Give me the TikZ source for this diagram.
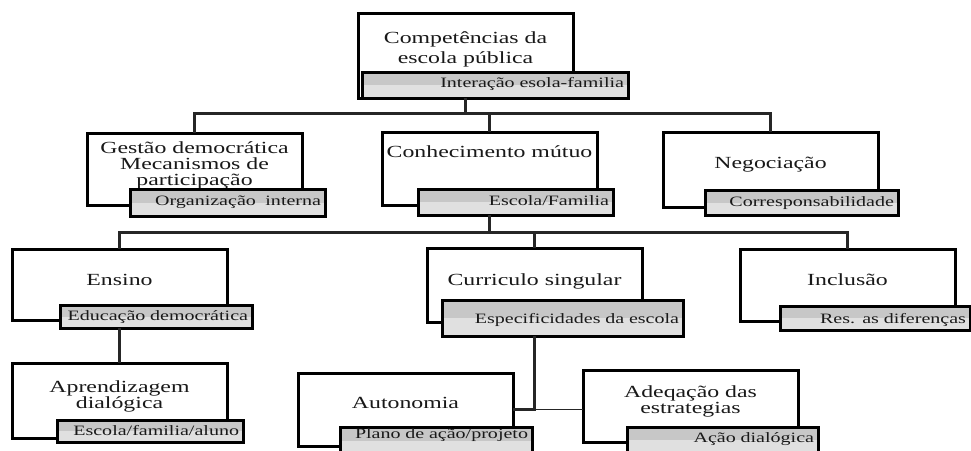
\documentclass[tikz,border=0pt]{standalone}
\usepackage{fontspec}
\newfontfamily\serifwide[FakeStretch=1.4]{Liberation Serif}
\newcommand{\boxtxt}{\serifwide\fontsize{17}{16}\selectfont}
\newcommand{\tagtxt}{\serifwide\fontsize{14.3}{15}\selectfont}

\begin{document}
\begin{tikzpicture}[x=1pt, y=-1pt,
  box/.style={draw=black, line width=3pt, fill=white, anchor=north west, inner sep=0pt, outer sep=0pt, minimum width=215pt, align=center, font=\boxtxt, text=black!90},
  tag/.style={draw=black, line width=3pt, fill=black!22, anchor=north west, inner xsep=4pt, inner ysep=0pt, outer sep=0pt, align=right, font=\tagtxt, text=black!90,
    path picture={\fill[black!12] (path picture bounding box.west) rectangle (path picture bounding box.south east);}},
  link/.style={line width=3pt, draw=black!85}]
\useasboundingbox (0,0) rectangle (971,450);
\clip (0,0) rectangle (971,450);

% Top
\node[box, text height=50pt, text depth=35pt] (comp) at (358,13) {Competências da\\[4pt]escola pública};
\node[tag, text width=258pt, text height=15pt, text depth=11pt] (compT) at (362,72) {Interação esola-familia};

% Second row
\node[box, text height=52pt, text depth=20pt] (gestao) at (87,133) {Gestão democrática\\Mecanismos de\\participação};
\node[tag, text width=187pt, text height=16pt, text depth=11pt] (gestaoT) at (130,189) {Organização\ \ interna};
\node[box, text height=25pt, text depth=48pt] (conhec) at (382,132) {Conhecimento mútuo};
\node[tag, text width=187pt, text height=16pt, text depth=10pt] (conhecT) at (418,189) {Escola/Familia};
\node[box, text height=36pt, text depth=39pt] (negoc) at (663,132) {Negociação};
\node[tag, text width=185pt, text height=16pt, text depth=9pt] (negocT) at (705,190) {Corresponsabilidade};

% Third row
\node[box, text height=36pt, text depth=35pt] (ensino) at (12,249) {Ensino};
\node[tag, text width=184pt, text height=15pt, text depth=8pt] (ensinoT) at (60,305) {Educação democrática};
\node[box, text height=37pt, text depth=37pt] (curric) at (427,248) {Curriculo singular};
\node[tag, text width=233pt, text height=23pt, text depth=13pt] (curricT) at (442,300) {Especificidades da escola};
\node[box, text height=36pt, text depth=36pt] (inclus) at (740,249) {Inclusão};
\node[tag, text width=182pt, text height=17pt, text depth=7pt] (inclusT) at (780,306) {Res. as diferenças};

% Bottom row
\node[box, text height=45pt, text depth=30pt] (aprend) at (12,363) {Aprendizagem\\[-0.5pt]dialógica};
\node[tag, text width=178pt, text height=15pt, text depth=7pt] (aprendT) at (57,420) {Escola/familia/aluno};
\node[box, text height=35pt, text depth=38pt] (auton) at (298,373) {Autonomia};
\node[tag, text width=184pt, text height=11pt, text depth=16pt] (autonT) at (340,427) {Plano de ação/projeto};
\node[box, text height=43pt, text depth=29pt] (adeq) at (583,370) {Adeqação das\\[-0.5pt]estrategias};
\node[tag, text width=183pt, text height=15pt, text depth=10pt] (adeqT) at (627,427) {Ação dialógica};

% Links
\draw[link] (comp.south) -- ++(0,15) -| (conhec.north);
\draw[link] (gestao.north) -- ++(0,-20) -| (negoc.north);
\draw[link] (conhec.south |- conhecT.south) -- ++(0,17) -| (curric.north);
\draw[link] (ensino.north) -- ++(0,-17) -| (inclus.north);
\draw[link] (ensino.south |- ensinoT.south) -- (aprend.north);
\draw[link] (curric.south |- curricT.south) |- (auton.east);
\draw[link, line width=1.8pt] (curric.south |- auton.east) -- (adeq.west |- auton.east);
\end{tikzpicture}
\end{document}
